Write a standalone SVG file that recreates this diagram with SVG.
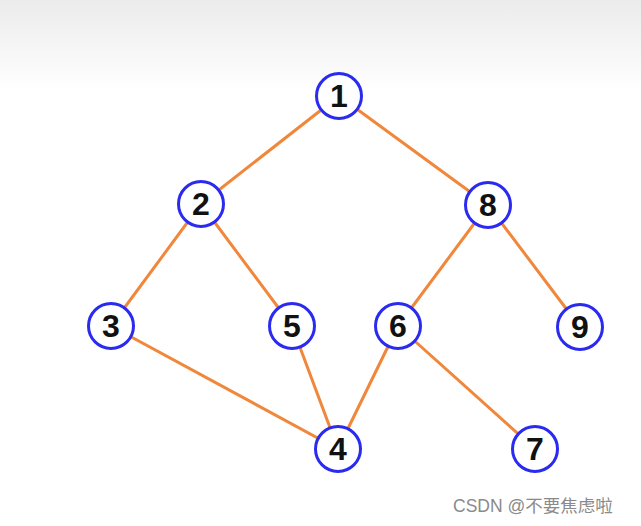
<svg xmlns="http://www.w3.org/2000/svg" width="641" height="526" viewBox="0 0 641 526">
<defs>
<linearGradient id="bg" x1="0" y1="0" x2="0" y2="1">
<stop offset="0" stop-color="#ebebeb"/>
<stop offset="1" stop-color="#ffffff"/>
</linearGradient>
<style>
.edge{stroke:#f0873a;stroke-width:3;stroke-linecap:round}
.node circle{fill:#ffffff;stroke:#2a2af0;stroke-width:3}
.node text{font-family:"Liberation Sans",Arial,sans-serif;font-weight:bold;font-size:32px;fill:#111;text-anchor:middle}
.wm{font-family:"Liberation Sans","Noto Sans CJK SC",sans-serif;font-size:17.5px;fill:#8a8a8a}
</style>
</defs>
<rect x="0" y="0" width="641" height="526" fill="#ffffff"/>
<rect x="0" y="0" width="641" height="90" fill="url(#bg)"/>
<g id="connectors">
<line class="edge" x1="339" y1="96" x2="201" y2="204"/>
<line class="edge" x1="339" y1="96" x2="488" y2="205"/>
<line class="edge" x1="201" y1="204" x2="111" y2="326"/>
<line class="edge" x1="201" y1="204" x2="292" y2="326"/>
<line class="edge" x1="488" y1="205" x2="398" y2="326"/>
<line class="edge" x1="488" y1="205" x2="580" y2="327"/>
<line class="edge" x1="111" y1="326" x2="338" y2="449"/>
<line class="edge" x1="292" y1="326" x2="338" y2="449"/>
<line class="edge" x1="398" y1="326" x2="338" y2="449"/>
<line class="edge" x1="398" y1="326" x2="535" y2="449"/>
</g>
<g id="n1" class="node"><circle cx="339" cy="96" r="22.5"/><text x="339" y="107">1</text></g>
<g id="n2" class="node"><circle cx="201" cy="204" r="22.5"/><text x="201" y="215">2</text></g>
<g id="n8" class="node"><circle cx="488" cy="205" r="22.5"/><text x="488" y="216">8</text></g>
<g id="n3" class="node"><circle cx="111" cy="326" r="22.5"/><text x="111" y="337">3</text></g>
<g id="n5" class="node"><circle cx="292" cy="326" r="22.5"/><text x="292" y="337">5</text></g>
<g id="n6" class="node"><circle cx="398" cy="326" r="22.5"/><text x="398" y="337">6</text></g>
<g id="n9" class="node"><circle cx="580" cy="327" r="22.5"/><text x="580" y="338">9</text></g>
<g id="n4" class="node"><circle cx="338" cy="449" r="22.5"/><text x="338" y="460">4</text></g>
<g id="n7" class="node"><circle cx="535" cy="449" r="22.5"/><text x="535" y="460">7</text></g>
<text class="wm" x="453" y="512">CSDN @不要焦虑啦</text>
</svg>
